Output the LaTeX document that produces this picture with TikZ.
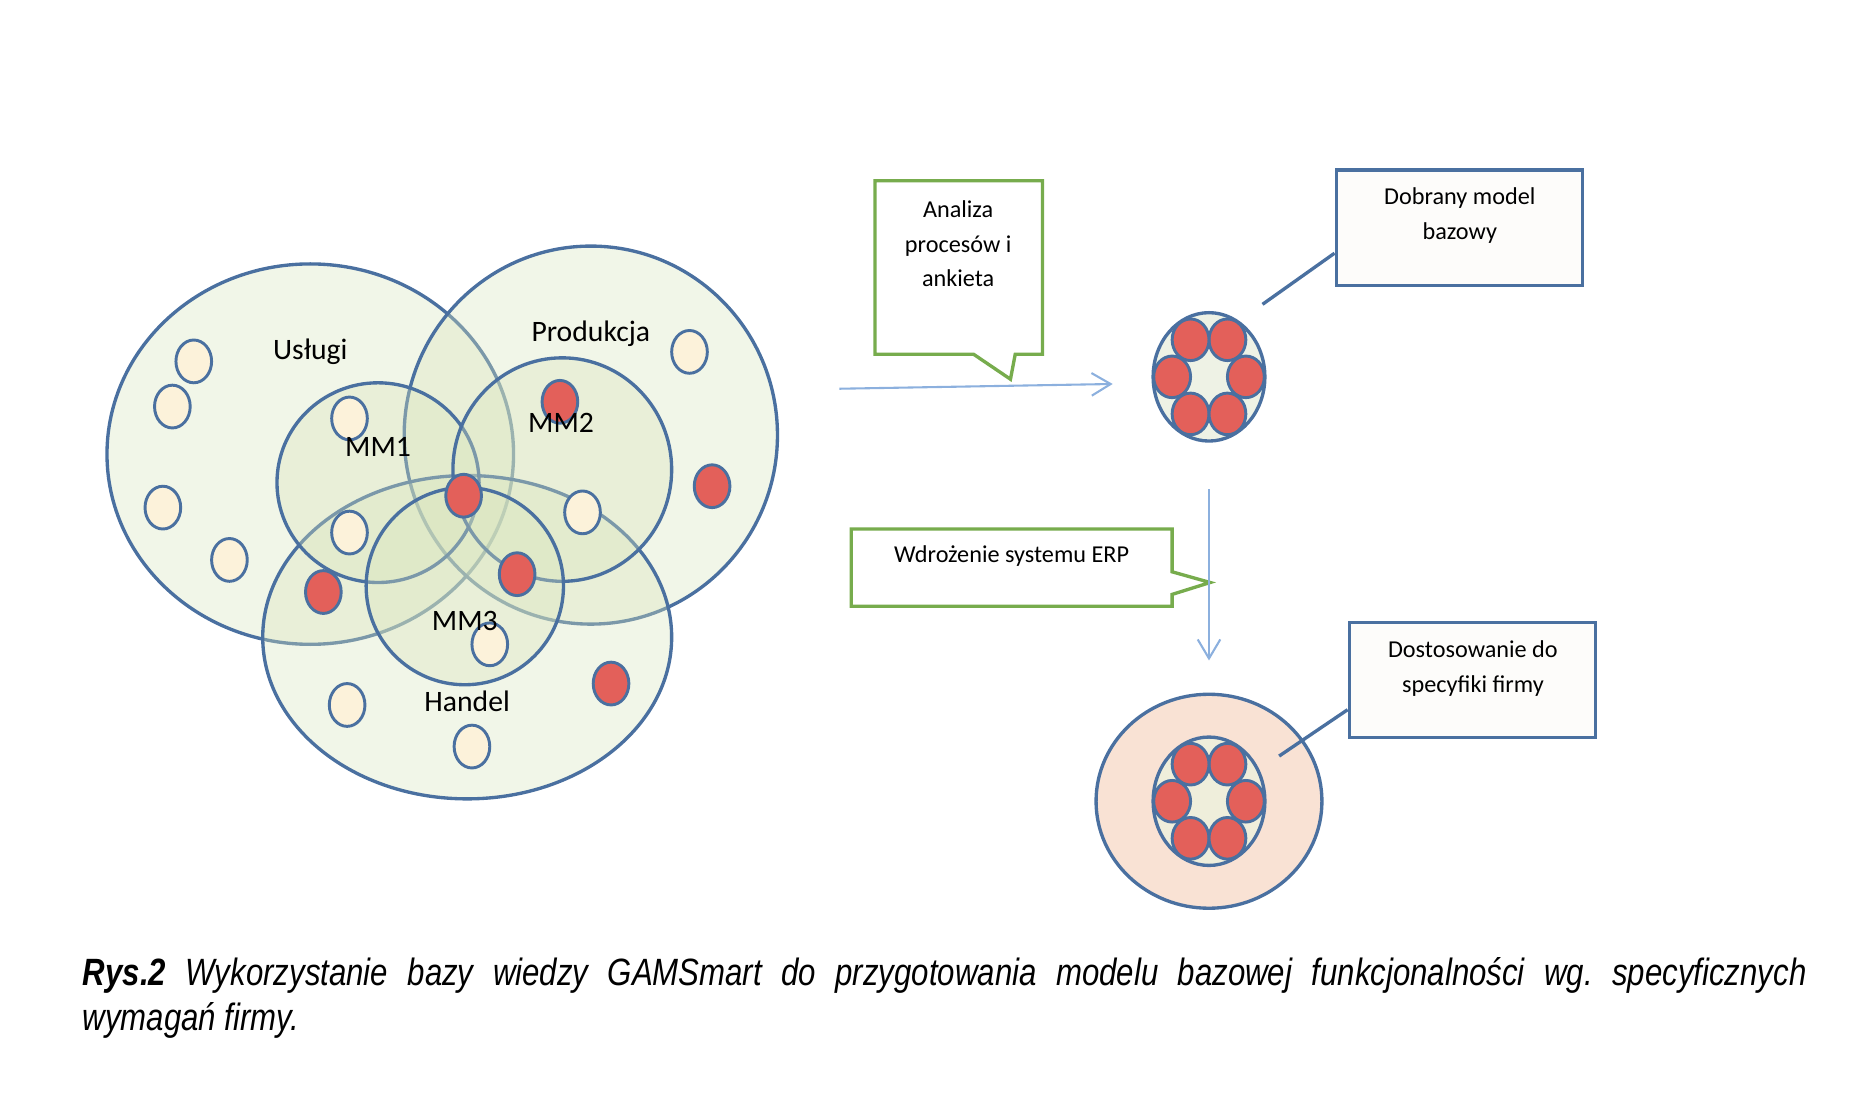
\documentclass[tikz,border=0pt]{standalone}
\usepackage{fontspec}
\setmainfont{Carlito}
\newfontfamily\podpisfont[FakeStretch=0.82]{Liberation Sans}
\usetikzlibrary{arrows.meta,positioning,shapes.geometric,calc}
\definecolor{Niebieski}{HTML}{4A70A0}
\definecolor{Zielony}{HTML}{77AC4D}
\definecolor{ZielonyJasny}{HTML}{D8E4BC}
\definecolor{Strzalka}{HTML}{8CB0DE}
\definecolor{Czerwony}{HTML}{E3605A}
\definecolor{Kremowy}{HTML}{FCF2DA}
\definecolor{Rdzen}{HTML}{EEF2E5}
\definecolor{RdzenDolny}{HTML}{EFEEDB}
\definecolor{Brzoskwinia}{HTML}{F9E2D4}
\definecolor{Ramka}{HTML}{FDFCFA}
\frenchspacing

\begin{document}
\begin{tikzpicture}[
  font=\fontsize{7.1pt}{8.5pt}\selectfont,
  obszar/.style={ellipse,draw=Niebieski,line width=0.8pt,fill=ZielonyJasny,fill opacity=0.35,inner sep=0pt},
  jasny/.style={ellipse,draw=Niebieski,line width=0.7pt,fill=Kremowy,minimum width=0.30cm,minimum height=0.36cm,inner sep=0pt},
  czerwony/.style={ellipse,draw=Niebieski,line width=0.7pt,fill=Czerwony,minimum width=0.30cm,minimum height=0.36cm,inner sep=0pt},
  dymek/.style={draw=Zielony,line width=0.8pt,fill=white},
  ramka/.style={draw=Niebieski,line width=0.8pt,fill=Ramka,minimum width=2.07cm,minimum height=0.97cm,inner sep=0pt},
  opis/.style={font=\fontsize{5.8pt}{8.25pt}\selectfont,align=center,inner sep=0pt},
  strz/.style={-{Straight Barb[length=1.6mm,width=1.9mm]},Strzalka,line width=0.5pt},
  linia/.style={draw=Niebieski,line width=0.8pt}
]
  \useasboundingbox (0,0) rectangle (15.68,9.34);

  % obszary bazy wiedzy
  \node[obszar,minimum width=3.42cm,minimum height=3.20cm] (uslugi) at (2.61,5.52) {};
  \node[obszar,minimum width=3.14cm,minimum height=3.18cm] (produkcja) at (4.97,5.68) {};
  \node[obszar,minimum width=3.44cm,minimum height=2.72cm] (handel) at (3.93,3.98) {};
  \node[obszar,minimum width=1.70cm,minimum height=1.68cm] (mmone) at (3.18,5.28) {};
  \node[obszar,minimum width=1.84cm,minimum height=1.88cm] (mmtwo) at (4.73,5.39) {};
  \node[obszar,minimum width=1.66cm,minimum height=1.66cm] (mmthree) at (3.91,4.41) {};

  \foreach \x/\y [count=\i] in {1.63/6.30,1.45/5.92,2.94/5.82,1.37/5.07,1.93/4.63,2.94/4.86,
      4.90/5.03,5.80/6.38,4.12/3.92,2.92/3.41,3.97/3.06}
    \node[jasny] (j\i) at (\x,\y) {};
  \foreach \x/\y [count=\i] in {4.71/5.96,3.90/5.17,5.99/5.25,4.35/4.51,2.72/4.36,5.14/3.59}
    \node[czerwony] (c\i) at (\x,\y) {};

  \node (luslugi) at (2.61,6.38) {Usługi};
  \node (lprodukcja) at (4.97,6.53) {Produkcja};
  \node (lmmone) at (3.18,5.58) {MM1};
  \node (lmmtwo) at (4.72,5.78) {MM2};
  \node (lmmthree) at (3.91,4.12) {MM3};
  \node (lhandel) at (3.93,3.44) {Handel};

  % analiza
  \draw[dymek] (7.36,7.82) -- (8.77,7.82) -- (8.77,6.36) -- (8.54,6.36) -- (8.50,6.15)
    -- (8.19,6.36) -- (7.36,6.36) -- cycle;
  \node[opis] (analiza) at (8.06,7.29) {Analiza\\procesów i\\ankieta};
  \coordinate (start) at (7.06,6.07);
  \coordinate (koniec) at (9.36,6.11);
  \draw[strz] (start) -- (koniec);

  % model bazowy
  \node[ellipse,draw=Niebieski,line width=0.8pt,fill=Rdzen,minimum width=0.94cm,minimum height=1.08cm,inner sep=0pt]
    (modeltop) at (10.17,6.17) {};
  \foreach \a [count=\i] in {0,60,...,300}
    \node[czerwony,minimum width=0.31cm,minimum height=0.35cm] (mt\i) at ($(modeltop.center)+(\a:0.31 and 0.36)$) {};

  \node[ramka] (dobrany) at (12.275,7.425) {};
  \node[opis] (ldobrany) at (12.28,7.525) {Dobrany model\\bazowy};
  \coordinate (kdobrany) at (10.62,6.78);
  \draw[linia] (kdobrany) -- ([yshift=-0.215cm]dobrany.west);

  % wdrozenie
  \draw[dymek] (7.16,4.89) -- (9.86,4.89) -- (9.86,4.53) -- (10.18,4.44) -- (9.86,4.34)
    -- (9.86,4.24) -- (7.16,4.24) -- cycle;
  \node[opis] (wdrozenie) at (8.51,4.66) {Wdrożenie systemu ERP};

  % model dostosowany
  \node[ellipse,draw=Niebieski,line width=0.8pt,fill=Brzoskwinia,minimum width=1.90cm,minimum height=1.80cm,inner sep=0pt]
    (modelbottom) at (10.17,2.60) {};
  \node[ellipse,draw=Niebieski,line width=0.8pt,fill=RdzenDolny,minimum width=0.94cm,minimum height=1.08cm,inner sep=0pt]
    (rdzen) at (10.17,2.60) {};
  \foreach \a [count=\i] in {0,60,...,300}
    \node[czerwony,minimum width=0.31cm,minimum height=0.35cm] (mb\i) at ($(rdzen.center)+(\a:0.31 and 0.36)$) {};

  \draw[strz] ([yshift=-0.39cm]modeltop.south) -- ([yshift=0.27cm]modelbottom.north);

  \node[ramka] (dostosowanie) at (12.385,3.62) {};
  \node[opis] (ldostosowanie) at (12.39,3.715) {Dostosowanie do\\specyfiki firmy};
  \coordinate (kdostosowanie) at (10.76,2.98);
  \draw[linia] (kdostosowanie) -- ([yshift=-0.25cm]dostosowanie.west);

  \node[anchor=north west,text width=14.5cm,align=justify,inner sep=0pt,
    font=\podpisfont\fontsize{9.1pt}{10.8pt}\selectfont\itshape] (podpis) at (0.69,1.29)
    {\noindent\textbf{Rys.2} Wykorzystanie bazy wiedzy GAMSmart do przygotowania modelu bazowej funkcjonalności wg. specyficznych\linebreak wymagań firmy.};
\end{tikzpicture}
\end{document}
